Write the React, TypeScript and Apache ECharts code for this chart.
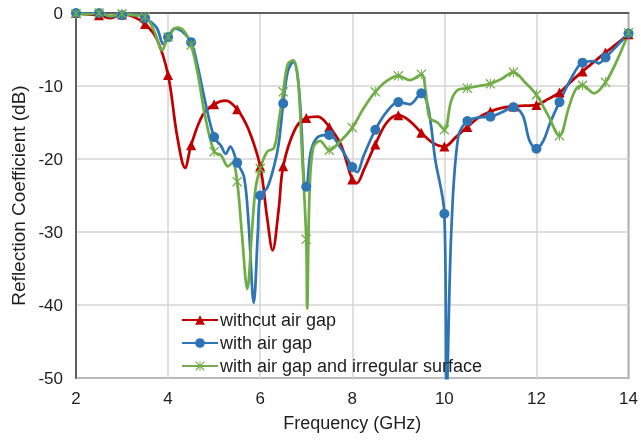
import React, { useEffect, useRef } from "react";
import * as echarts from "echarts";

const xTicks = [2, 4, 6, 8, 10, 12, 14];
const seriesNames = ["withcut air gap", "with air gap", "with air gap and irregular surface"];
const markerFreqs = [2, 2.5, 3, 3.5, 4, 4.5, 5, 5.5, 6, 6.5, 7, 7.5, 8, 8.5, 9, 9.5, 10, 10.5, 11, 11.5, 12, 12.5, 13, 13.5, 14];

const redData: number[][] = [
  [2, 0], [2.25, -0.2], [2.5, -0.3], [2.75, -0.7], [3, -0.2], [3.25, -0.5], [3.5, -1.5], [3.75, -3.5],
  [4, -8.5], [4.2, -17], [4.37, -21.2], [4.5, -18.1], [4.75, -14], [5, -12.5], [5.25, -12], [5.5, -13.2],
  [5.75, -16], [6, -21], [6.15, -28], [6.27, -32.5], [6.4, -27], [6.5, -21], [6.75, -16], [7, -14.4],
  [7.25, -14.2], [7.5, -15.6], [7.75, -18], [8, -22.8], [8.1, -23.3], [8.25, -21.5], [8.5, -18], [8.75, -15],
  [9, -14], [9.25, -14.8], [9.5, -16.4], [9.75, -17.8], [10, -18.3], [10.25, -17], [10.5, -15.6], [10.75, -14.3],
  [11, -13.5], [11.25, -13], [11.5, -12.8], [11.75, -12.7], [12, -12.6], [12.25, -11.8], [12.5, -10.9],
  [12.75, -9.4], [13, -8], [13.25, -6.7], [13.5, -5.4], [13.75, -4.2], [14, -2.9],
];

const blueData: number[][] = [
  [2, 0], [2.25, -0.1], [2.5, 0], [2.75, -0.5], [3, -0.3], [3.25, -0.2], [3.5, -0.7], [3.75, -2],
  [3.9, -4.3], [4, -3.3], [4.15, -2.1], [4.3, -2.5], [4.5, -4], [4.65, -7.5], [4.8, -12], [5, -17],
  [5.15, -18.2], [5.25, -19.3], [5.35, -18.3], [5.5, -20.5], [5.65, -22.5], [5.75, -29], [5.86, -39.7],
  [5.95, -30], [6, -25], [6.15, -24], [6.3, -21], [6.4, -18], [6.5, -12.4], [6.6, -8], [6.72, -6.7],
  [6.82, -9], [6.9, -16], [6.95, -23], [7, -23.8], [7.1, -19], [7.25, -17], [7.5, -16.7], [7.75, -18.5],
  [8, -21.1], [8.1, -21.8], [8.25, -19.5], [8.5, -16], [8.75, -13.5], [9, -12.2], [9.25, -12.5], [9.5, -11],
  [9.65, -13], [9.8, -20], [10, -27.5], [10.05, -52], [10.15, -30], [10.3, -17], [10.5, -14.8], [10.75, -14.3],
  [11, -14.2], [11.25, -13.6], [11.5, -12.9], [11.7, -14], [11.85, -17.5], [12, -18.6], [12.15, -17.5],
  [12.3, -15], [12.5, -12.2], [12.75, -9], [13, -6.8], [13.25, -6.6], [13.35, -6.9], [13.5, -6.1],
  [13.75, -4.5], [14, -2.8],
];

const greenData: number[][] = [
  [2, -0.1], [2.25, -0.2], [2.5, 0], [2.75, -0.4], [3, -0.1], [3.25, -0.3], [3.5, -0.5], [3.7, -2.5],
  [3.87, -5.1], [4, -3.3], [4.2, -2], [4.35, -2.5], [4.5, -4.4], [4.65, -8.5], [4.8, -14], [5, -19],
  [5.15, -19.5], [5.3, -21], [5.4, -20.5], [5.5, -23.1], [5.6, -30], [5.72, -37.8], [5.82, -30], [5.9, -24],
  [6, -21.3], [6.15, -19], [6.3, -18.5], [6.4, -15], [6.5, -10.8], [6.6, -7], [6.72, -6.5], [6.82, -9],
  [6.9, -18], [7, -31], [7.02, -40.5], [7.07, -25], [7.15, -18.5], [7.3, -17.5], [7.5, -18.8], [7.75, -17.5],
  [8, -15.7], [8.25, -13], [8.5, -10.8], [8.75, -9.3], [9, -8.6], [9.25, -9.2], [9.5, -8.4], [9.6, -11],
  [9.68, -14.4], [9.85, -15], [10, -16], [10.15, -12], [10.3, -10.5], [10.5, -10.3], [10.75, -10],
  [11, -9.7], [11.25, -9], [11.5, -8.1], [11.75, -9.5], [12, -11.2], [12.25, -14], [12.5, -16.8],
  [12.7, -13], [12.85, -10.5], [13, -9.9], [13.25, -11], [13.5, -9.5], [13.75, -6.5], [14, -2.7],
];

const colors = ["#C00000", "#2E75B6", "#70AD47"];
const starPath =
  "path://M0,1.8 L1.8,0 L10,8.2 L18.2,0 L20,1.8 L11.8,10 L20,18.2 L18.2,20 L10,11.8 L1.8,20 L0,18.2 L8.2,10 Z M9,0 L11,0 L11,20 L9,20 Z";
const symbols = ["triangle", "circle", starPath];
const symbolSizes = [10, 10, 10];

function withMarkers(data: number[][], symbol: string) {
  return data.map(([x, y]) => {
    const isMarker = markerFreqs.some((m) => Math.abs(m - x) < 1e-6);
    return { value: [x, y], symbol: isMarker ? symbol : "none" };
  });
}

export default function App() {
  const ref = useRef<HTMLDivElement>(null);
  useEffect(() => {
    if (!ref.current) return;
    const chart = echarts.init(ref.current, undefined, { renderer: "svg" });
    const font = "'Liberation Sans', Arial, sans-serif";
    const all = [redData, blueData, greenData];
    chart.setOption({
      animation: false,
      textStyle: { fontFamily: font },
      grid: {
        left: 76,
        right: 12,
        top: 13,
        bottom: 63,
        show: true,
        borderColor: "#404040",
        borderWidth: 1.5,
        backgroundColor: "transparent",
      },
      legend: {
        orient: "vertical",
        left: 176,
        top: 306,
        itemWidth: 36,
        itemHeight: 12,
        itemGap: 5,
        textStyle: { fontSize: 18, color: "#1e1e1e", fontFamily: font, padding: [0, 0, 0, -3] },
        data: seriesNames,
      },
      xAxis: {
        type: "value",
        min: 2,
        max: 14,
        interval: 2,
        name: "Frequency (GHz)",
        nameLocation: "middle",
        nameGap: 36,
        nameTextStyle: { fontSize: 18, color: "#1e1e1e", fontFamily: font },
        axisLine: { show: true, lineStyle: { color: "#404040", width: 1.5 } },
        axisTick: { show: false },
        axisLabel: {
          fontSize: 17,
          color: "#1e1e1e",
          margin: 12,
          formatter: (v: number) => (xTicks.includes(v) ? String(v) : ""),
        },
        splitLine: { show: true, lineStyle: { color: "#d4d4d4", width: 1.5 } },
      },
      yAxis: {
        type: "value",
        min: -50,
        max: 0,
        interval: 10,
        name: "Reflection Coefficient (dB)",
        nameLocation: "middle",
        nameGap: 48,
        nameTextStyle: { fontSize: 19, color: "#1e1e1e", fontFamily: font },
        axisLine: { show: true, lineStyle: { color: "#404040", width: 1.5 } },
        axisTick: { show: false },
        axisLabel: { fontSize: 17, color: "#1e1e1e", margin: 13 },
        splitLine: { show: true, lineStyle: { color: "#d4d4d4", width: 1.5 } },
      },
      series: all.map((d, i) => ({
        name: seriesNames[i],
        type: "line",
        data: withMarkers(d, symbols[i]),
        symbol: symbols[i],
        symbolSize: symbolSizes[i],
        showSymbol: true,
        showAllSymbol: true,
        smooth: 0.35,
        clip: true,
        lineStyle: { color: colors[i], width: 2.75 },
        itemStyle: { color: colors[i], borderColor: colors[i], borderWidth: 0 },
        emphasis: { disabled: true },
      })),
    });
    return () => chart.dispose();
  }, []);
  return (
    <div
      ref={ref}
      style={{ position: "fixed", left: 0, top: 0, width: 641, height: 441 }}
    />
  );
}
